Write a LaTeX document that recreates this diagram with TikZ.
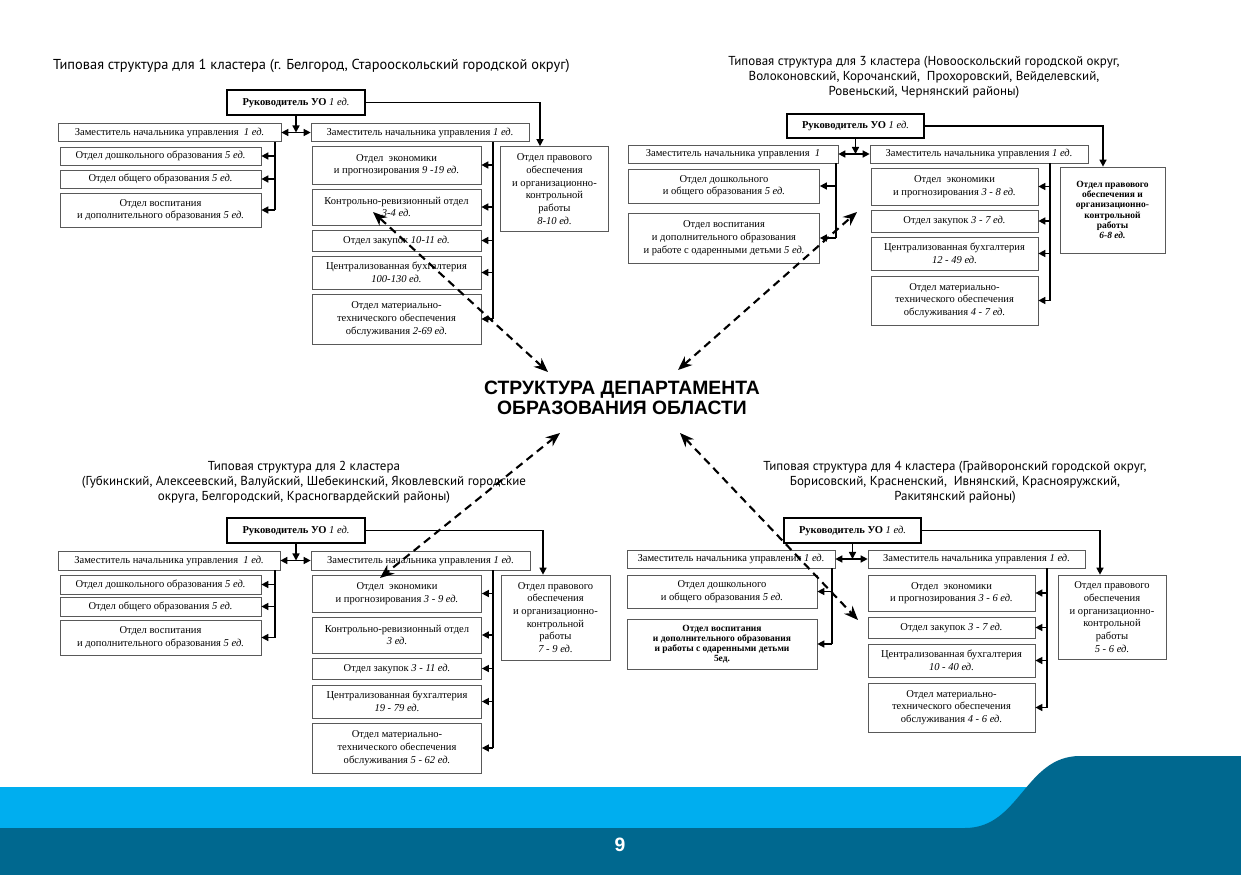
\documentclass[tikz,border=0pt]{standalone}
\usepackage{fontspec}
\setmainfont{Liberation Serif}
\newfontfamily\titlefont{PT Sans}
\newfontfamily\headfont{Liberation Sans}
\usetikzlibrary{arrows.meta, positioning, calc}
\definecolor{bandlight}{RGB}{0,174,239}
\definecolor{banddark}{RGB}{0,104,143}

\begin{document}
\begin{tikzpicture}[
    x=0.02cm, y=-0.02cm,
    box/.style={rectangle, draw=black!65, line width=0.4pt, fill=white, align=center, inner sep=1pt, font=\fontsize{6}{7.2}\selectfont},
    headbox/.style={rectangle, draw, line width=1pt, fill=white, minimum width=2.76cm, minimum height=0.5cm, font=\fontsize{6}{7.2}\selectfont},
    narrowbox/.style={box, font=\bfseries\fontsize{5.4}{5.8}\selectfont},
    zam/.style={box, minimum height=0.36cm},
    colA/.style={box, minimum width=4.02cm},
    colB/.style={box, minimum width=3.38cm},
    colC/.style={box, minimum width=3.82cm},
    colD/.style={box, minimum width=3.34cm},
    law/.style={box, minimum width=2.16cm, minimum height=1.7cm},
    capt/.style={font=\titlefont\fontsize{7.4}{8.6}\selectfont, align=center},
    arr/.style={-{Triangle[length=4pt, width=4pt]}, line width=0.8pt},
    arrs/.style={{Triangle[length=4pt, width=4pt]}-{Triangle[length=4pt, width=4pt]}, line width=0.8pt},
    spine/.style={line width=0.8pt},
    dlink/.style={{Stealth[length=8pt, width=6.5pt]}-{Stealth[length=8pt, width=6.5pt]}, line width=1.2pt, dash pattern=on 4.5pt off 3pt}
    ]
    \useasboundingbox (0,0) rectangle (1241,875);

    % Bottom band
    \fill[bandlight] (0,787) rectangle (1241,828);
    \fill[banddark] (0,875) -- (0,828) -- (965,828) .. controls (1020,828) and (1025,756) .. (1080,756) -- (1241,756) -- (1241,875) -- cycle;
    \node[font=\headfont\bfseries\fontsize{11}{13}\selectfont, text=white] (page) at (620,845) {9};

    % Centre
    \node[font=\headfont\bfseries\fontsize{11}{11.6}\selectfont, align=center] (dept) at (622,398) {СТРУКТУРА ДЕПАРТАМЕНТА\\ОБРАЗОВАНИЯ ОБЛАСТИ};

    % Cluster 1
    \node[capt, font=\titlefont\fontsize{8.2}{9}\selectfont, anchor=west] (t1) at (47,66) {Типовая структура для 1 кластера (г. Белгород, Старооскольский городской округ)};
    \node[headbox] (ruk1) at (296,102.5) {\textbf{Руководитель УО} \textit{1 ед.}};
    \node[zam, minimum width=4.46cm] (zamL1) at (169.5,132.5) {Заместитель начальника управления \ \textit{1 ед.}};
    \node[zam, minimum width=4.36cm] (zamR1) at (420,132.5) {Заместитель начальника управления \textit{1 ед.}};
    \node[colA, minimum height=0.36cm] (d1a) at (160.5,156) {Отдел дошкольного образования \textit{5 ед.}};
    \node[colA, minimum height=0.36cm] (d1b) at (160.5,179) {Отдел общего образования \textit{5 ед.}};
    \node[colA, minimum height=0.68cm] (d1c) at (160.5,210) {Отдел воспитания\\и дополнительного образования \textit{5 ед.}};
    \node[colB, minimum height=0.76cm] (e1) at (396.5,165) {Отдел \ экономики\\и прогнозирования \textit{9 -19 ед.}};
    \node[colB, minimum height=0.72cm] (k1) at (396.5,207) {Контрольно-ревизионный отдел\\\textit{3-4 ед.}};
    \node[colB, minimum height=0.42cm] (z1) at (396.5,240.5) {Отдел закупок \textit{10-11 ед.}};
    \node[colB, minimum height=0.66cm] (b1) at (396.5,272.5) {Централизованная бухгалтерия\\\textit{100-130 ед.}};
    \node[colB, minimum height=1.0cm] (m1) at (396.5,319) {Отдел материально-\\технического обеспечения\\обслуживания \textit{2-69 ед.}};
    \node[law] (p1) at (554.5,189) {Отдел правового\\обеспечения\\и организационно-\\контрольной\\работы\\\textit{8-10 ед.}};
    \coordinate (s1L) at (275,0);
    \coordinate (s1R) at (493,0);
    \draw[arr] (ruk1.east) -| ([xshift=-0.29cm]p1.north);
    \draw[arr] (ruk1.south) -- (ruk1.south |- zamL1.east);
    \draw[arrs] (zamL1.east) -- (zamR1.west);
    \draw[spine] (zamL1.south -| s1L) -- (s1L |- d1c.east);
    \draw[arr] (s1L |- d1a.east) -- (d1a.east);
    \draw[arr] (s1L |- d1b.east) -- (d1b.east);
    \draw[arr] (s1L |- d1c.east) -- (d1c.east);
    \draw[spine] (zamR1.south -| s1R) -- (s1R |- m1.east);
    \draw[arr] (s1R |- e1.east) -- (e1.east);
    \draw[arr] (s1R |- k1.east) -- (k1.east);
    \draw[arr] (s1R |- z1.east) -- (z1.east);
    \draw[arr] (s1R |- b1.east) -- (b1.east);
    \draw[arr] (s1R |- m1.east) -- (m1.east);

    % Cluster 3
    \node[capt] (t3) at (924,77) {Типовая структура для 3 кластера (Новооскольский городской округ,\\Волоконовский, Корочанский, \ Прохоровский, Вейделевский,\\Ровеньский, Чернянский районы)};
    \node[headbox, minimum width=2.74cm, minimum height=0.48cm] (ruk3) at (855.5,126) {\textbf{Руководитель УО} \textit{1 ед.}};
    \node[zam, minimum width=4.2cm] (zamL3) at (733,154) {Заместитель начальника управления \ \textit{1}};
    \node[zam, minimum width=4.36cm] (zamR3) at (979,154) {Заместитель начальника управления \textit{1 ед.}};
    \node[colC, minimum height=0.68cm] (d3a) at (724,186) {Отдел дошкольного\\и общего образования \textit{5 ед.}};
    \node[colC, minimum height=1.0cm] (d3b) at (724,238) {Отдел воспитания\\и дополнительного образования\\и работе с одаренными детьми \textit{5 ед.}};
    \node[colD, minimum height=0.74cm] (e3) at (954.5,186.5) {Отдел \ экономики\\и прогнозирования \textit{3 - 8 ед.}};
    \node[colD, minimum height=0.44cm] (z3) at (954.5,221) {Отдел закупок \textit{3 - 7 ед.}};
    \node[colD, minimum height=0.66cm] (b3) at (954.5,253.5) {Централизованная бухгалтерия\\\textit{12 - 49 ед.}};
    \node[colD, minimum height=0.98cm] (m3) at (954.5,300.5) {Отдел материально-\\технического обеспечения\\обслуживания \textit{4 - 7 ед.}};
    \node[law, narrowbox, minimum width=2.1cm, minimum height=1.72cm] (p3) at (1112.5,210) {Отдел правового\\обеспечения и\\организационно-\\контрольной\\работы\\\textit{6-8 ед.}};
    \coordinate (s3L) at (836,0);
    \coordinate (s3R) at (1050,0);
    \draw[arr] (ruk3.east) -| ([xshift=-0.19cm]p3.north);
    \draw[arr] (ruk3.south) -- (ruk3.south |- zamL3.east);
    \draw[arrs] (zamL3.east) -- (zamR3.west);
    \draw[spine] (zamL3.south -| s3L) -- (s3L |- d3b.east);
    \draw[arr] (s3L |- d3a.east) -- (d3a.east);
    \draw[arr] (s3L |- d3b.east) -- (d3b.east);
    \draw[spine] (zamR3.south -| s3R) -- (s3R |- m3.east);
    \draw[arr] (s3R |- e3.east) -- (e3.east);
    \draw[arr] (s3R |- z3.east) -- (z3.east);
    \draw[arr] (s3R |- b3.east) -- (b3.east);
    \draw[arr] (s3R |- m3.east) -- (m3.east);

    % Cluster 2
    \node[capt] (t2) at (304,482) {Типовая структура для 2 кластера\\(Губкинский, Алексеевский, Валуйский, Шебекинский, Яковлевский городские\\округа, Белгородский, Красногвардейский районы)};
    \node[headbox] (ruk2) at (296,530.5) {\textbf{Руководитель УО} \textit{1 ед.}};
    \node[zam, minimum width=4.44cm, minimum height=0.38cm] (zamL2) at (169,560.5) {Заместитель начальника управления \ \textit{1 ед.}};
    \node[zam, minimum width=4.38cm, minimum height=0.38cm] (zamR2) at (420.5,560.5) {Заместитель начальника управления \textit{1 ед.}};
    \node[colA, minimum height=0.38cm] (d2a) at (160.5,584.5) {Отдел дошкольного образования \textit{5 ед.}};
    \node[colA, minimum height=0.38cm] (d2b) at (160.5,606.5) {Отдел общего образования \textit{5 ед.}};
    \node[colA, minimum height=0.7cm] (d2c) at (160.5,637.5) {Отдел воспитания\\и дополнительного образования \textit{5 ед.}};
    \node[colB, minimum height=0.74cm] (e2) at (397,593.5) {Отдел \ экономики\\и прогнозирования \textit{3 - 9 ед.}};
    \node[colB, minimum height=0.72cm] (k2) at (397,635) {Контрольно-ревизионный отдел\\\textit{3 ед.}};
    \node[colB, minimum height=0.42cm] (z2) at (397,668.5) {Отдел закупок \textit{3 - 11 ед.}};
    \node[colB, minimum height=0.66cm] (b2) at (397,701.5) {Централизованная бухгалтерия\\\textit{19 - 79 ед.}};
    \node[colB, minimum height=1.0cm] (m2) at (397,748) {Отдел материально-\\технического обеспечения\\обслуживания \textit{5 - 62 ед.}};
    \node[law, minimum width=2.18cm] (p2) at (555.5,617.5) {Отдел правового\\обеспечения\\и организационно-\\контрольной\\работы\\\textit{7 - 9 ед.}};
    \coordinate (s2L) at (275,0);
    \coordinate (s2R) at (493,0);
    \draw[arr] (ruk2.east) -| ([xshift=-0.25cm]p2.north);
    \draw[arr] (ruk2.south) -- (ruk2.south |- zamL2.east);
    \draw[arrs] (zamL2.east) -- (zamR2.west);
    \draw[spine] (zamL2.south -| s2L) -- (s2L |- d2c.east);
    \draw[arr] (s2L |- d2a.east) -- (d2a.east);
    \draw[arr] (s2L |- d2b.east) -- (d2b.east);
    \draw[arr] (s2L |- d2c.east) -- (d2c.east);
    \draw[spine] (zamR2.south -| s2R) -- (s2R |- m2.east);
    \draw[arr] (s2R |- e2.east) -- (e2.east);
    \draw[arr] (s2R |- k2.east) -- (k2.east);
    \draw[arr] (s2R |- z2.east) -- (z2.east);
    \draw[arr] (s2R |- b2.east) -- (b2.east);
    \draw[arr] (s2R |- m2.east) -- (m2.east);

    % Cluster 4
    \node[capt] (t4) at (955,482) {Типовая структура для 4 кластера (Грайворонский городской округ,\\Борисовский, Красненский, \ Ивнянский, Краснояружский,\\Ракитянский районы)};
    \node[headbox, minimum width=2.74cm] (ruk4) at (852.5,530.5) {\textbf{Руководитель УО} \textit{1 ед.}};
    \node[zam, minimum width=4.16cm] (zamL4) at (731,559) {Заместитель начальника управления \textit{1 ед.}};
    \node[zam, minimum width=4.34cm] (zamR4) at (976.5,559) {Заместитель начальника управления \textit{1 ед.}};
    \node[colC, minimum width=3.8cm, minimum height=0.66cm] (d4a) at (722,591.5) {Отдел дошкольного\\и общего образования \textit{5 ед.}};
    \node[colC, narrowbox, minimum width=3.8cm, minimum height=1.0cm] (d4b) at (722,644) {Отдел воспитания\\и дополнительного образования\\и работы с одаренными детьми\\5ед.};
    \node[colD, minimum height=0.72cm] (e4) at (951.5,593) {Отдел \ экономики\\и прогнозирования \textit{3 - 6 ед.}};
    \node[colD, minimum height=0.42cm] (z4) at (951.5,627.5) {Отдел закупок \textit{3 - 7 ед.}};
    \node[colD, minimum height=0.66cm] (b4) at (951.5,660.5) {Централизованная бухгалтерия\\\textit{10 - 40 ед.}};
    \node[colD, minimum height=0.98cm] (m4) at (951.5,707.5) {Отдел материально-\\технического обеспечения\\обслуживания \textit{4 - 6 ед.}};
    \node[law, minimum height=1.68cm] (p4) at (1112,617) {Отдел правового\\обеспечения\\и организационно-\\контрольной\\работы\\\textit{5 - 6 ед.}};
    \coordinate (s4L) at (832,0);
    \coordinate (s4R) at (1047,0);
    \draw[arr] (ruk4.east) -| ([xshift=-0.24cm]p4.north);
    \draw[arr] (ruk4.south) -- (ruk4.south |- zamL4.east);
    \draw[arrs] (zamL4.east) -- (zamR4.west);
    \draw[spine] (zamL4.south -| s4L) -- (s4L |- d4b.east);
    \draw[arr] (s4L |- d4a.east) -- (d4a.east);
    \draw[arr] (s4L |- d4b.east) -- (d4b.east);
    \draw[spine] (zamR4.south -| s4R) -- (s4R |- m4.east);
    \draw[arr] (s4R |- e4.east) -- (e4.east);
    \draw[arr] (s4R |- z4.east) -- (z4.east);
    \draw[arr] (s4R |- b4.east) -- (b4.east);
    \draw[arr] (s4R |- m4.east) -- (m4.east);

    % Links to the centre
    \coordinate (c1) at (548,372);
    \coordinate (c3) at (678,370);
    \coordinate (c2) at (560,433);
    \coordinate (c4) at (680,433);
    \coordinate (q1) at (373,212);
    \coordinate (q3) at (857,212);
    \coordinate (q2) at (380,578);
    \coordinate (q4) at (858,620);
    \draw[dlink] (c1) -- (q1);
    \draw[dlink] (c3) -- (q3);
    \draw[dlink] (c2) -- (q2);
    \draw[dlink] (c4) -- (q4);
\end{tikzpicture}
\end{document}
